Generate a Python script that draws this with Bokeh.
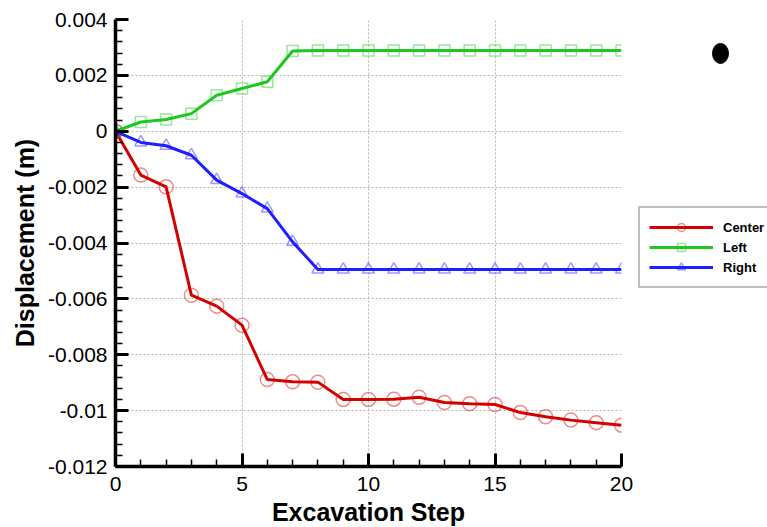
from bokeh.plotting import figure
from bokeh.layouts import row
from bokeh.models import Legend, LegendItem, FixedTicker
from bokeh.embed import file_html
from bokeh.resources import INLINE

# Excavation steps and displacement of the three monitoring points (m)
steps = list(range(0, 21))
center = [0.0, -0.00157, -0.00199, -0.00587, -0.00626, -0.00694, -0.00889, -0.00897,
          -0.00898, -0.00960, -0.00960, -0.00959, -0.00952, -0.00971, -0.00975,
          -0.00978, -0.01007, -0.01022, -0.01034, -0.01043, -0.01052]
left = [0.0, 0.00033, 0.00042, 0.00063, 0.00129, 0.00153, 0.00177, 0.00287,
        0.00289, 0.00289, 0.00289, 0.00289, 0.00289, 0.00289, 0.00289,
        0.00289, 0.00289, 0.00289, 0.00289, 0.00289, 0.00289]
right = [0.0, -0.00040, -0.00052, -0.00086, -0.00175, -0.00223, -0.00277, -0.00396,
         -0.00495, -0.00495, -0.00495, -0.00495, -0.00495, -0.00495, -0.00495,
         -0.00495, -0.00495, -0.00495, -0.00495, -0.00495, -0.00495]

x_ticks = [0, 5, 10, 15, 20]
y_ticks = [0.004, 0.002, 0.0, -0.002, -0.004, -0.006, -0.008, -0.01, -0.012]
y_tick_labels = ["0.004", "0.002", "0", "-0.002", "-0.004", "-0.006", "-0.008", "-0.01", "-0.012"]

# the stray bullet mark in the side strip (pixel coordinates of the page)
dot_x = [720]
dot_y = [53]

FONT = "Liberation Sans"
TOP, BOTTOM = 19, 61

p = figure(frame_width=506, frame_height=447,
           x_range=(0, 20), y_range=(-0.012, 0.004),
           output_backend="svg", toolbar_location=None,
           min_border_left=115, min_border_right=14,
           min_border_top=TOP, min_border_bottom=BOTTOM)
p.outline_line_color = None

# axes
p.xaxis.ticker = FixedTicker(ticks=x_ticks, minor_ticks=list(range(0, 21)))
p.yaxis.ticker = FixedTicker(ticks=y_ticks,
                             minor_ticks=[round(-0.012 + 0.0004 * i, 5) for i in range(41)])
p.yaxis.major_label_overrides = {v: s for v, s in zip(y_ticks, y_tick_labels)}
p.xaxis.axis_label = "Excavation Step"
p.yaxis.axis_label = "Displacement (m)"
for ax in (p.xaxis, p.yaxis):
    ax.axis_line_width = 3.5
    ax.axis_line_color = "black"
    ax.major_tick_in = 13
    ax.major_tick_out = 0
    ax.minor_tick_in = 7
    ax.minor_tick_out = 0
    ax.major_tick_line_width = 3
    ax.minor_tick_line_width = 1.5
    ax.major_tick_line_color = "black"
    ax.minor_tick_line_color = "black"
    ax.major_label_text_font = FONT
    ax.major_label_text_font_size = "21px"
    ax.major_label_text_color = "black"
    ax.axis_label_text_font = FONT
    ax.axis_label_text_font_size = "25px"
    ax.axis_label_text_font_style = "bold"
    ax.axis_label_text_color = "black"
p.xaxis.major_label_standoff = 10
p.yaxis.major_label_standoff = 8
p.xaxis.axis_label_standoff = 4
p.yaxis.axis_label_standoff = 6

# dotted grid at major ticks
for g in (p.xgrid, p.ygrid):
    g.grid_line_color = "#b8b8b8"
    g.grid_line_dash = "2 2"
    g.grid_line_width = 1

series = [
    ("Center", center, "#d40000", "circle", 14),
    ("Left", left, "#1ec81e", "square", 11),
    ("Right", right, "#1f1fff", "triangle", 12),
]

for name, ys, color, marker, size in series:
    p.line(steps, ys, line_color=color, line_width=3)
    p.scatter(steps, ys, marker=marker, size=size, fill_color=None,
              line_color=color, line_alpha=0.45, line_width=1.5)

# side strip holding the legend and the bullet; its ranges are page pixels
side = figure(width=132, height=527, x_range=(635, 767), y_range=(527 - BOTTOM, TOP),
              output_backend="svg", toolbar_location=None,
              min_border_left=0, min_border_right=0,
              min_border_top=TOP, min_border_bottom=BOTTOM,
              x_axis_type=None, y_axis_type=None)
side.outline_line_color = None
side.grid.visible = False

nan = [float("nan")]
items = []
for name, ys, color, marker, size in series:
    ln = side.line(nan, nan, line_color=color, line_width=3)
    mk = side.scatter(nan, nan, marker=marker, size=size, fill_color=None,
                      line_color=color, line_alpha=0.45, line_width=1.5)
    items.append(LegendItem(label=name, renderers=[ln, mk]))

legend = Legend(items=items, location=(3, 177),
                label_text_font=FONT, label_text_font_size="13px",
                label_text_font_style="bold", label_text_color="black",
                glyph_width=64, glyph_height=20, label_height=20,
                label_standoff=10, spacing=-2, padding=9, margin=0,
                border_line_color="#808080", border_line_width=2,
                background_fill_color="white")
side.add_layout(legend)

side.ellipse(dot_x, dot_y, width=16, height=20, fill_color="black", line_color="black")

layout = row(p, side)
open("out.html", "w").write(file_html(layout, INLINE))
